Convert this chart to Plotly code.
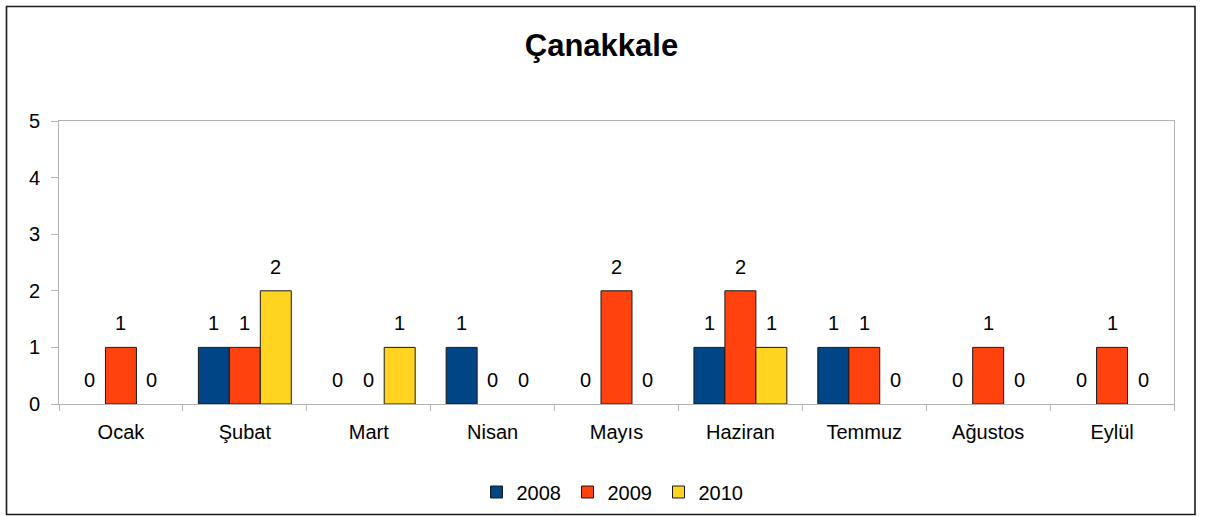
import plotly.graph_objects as go

months = ["Ocak", "Şubat", "Mart", "Nisan", "Mayıs", "Haziran", "Temmuz", "Ağustos", "Eylül"]
years = ["2008", "2009", "2010"]
v2008 = [0, 1, 0, 1, 0, 1, 1, 0, 0]
v2009 = [1, 1, 0, 0, 2, 2, 1, 1, 1]
v2010 = [0, 2, 1, 0, 0, 1, 0, 0, 0]
colors = ["#004586", "#ff420e", "#ffd320"]
series = [v2008, v2009, v2010]

W, H = 1211, 516
L, R, T, B = 59, 37, 121, 112
pw, ph = W - L - R, H - T - B
FONT = "Liberation Sans, Arial, sans-serif"

fig = go.Figure()
for name, vals, col in zip(years, series, colors):
    fig.add_trace(go.Bar(
        x=months, y=[v if v else None for v in vals], name=name,
        marker=dict(color=col, line=dict(color="#1a1a1a", width=1)),
    ))

# data labels
n = len(series)
bw = 0.75 / n
for k, vals in enumerate(series):
    off = (k - (n - 1) / 2) * bw
    for i, v in enumerate(vals):
        fig.add_annotation(
            x=i + off, y=v, xref="x", yref="y", text=str(v), showarrow=False,
            yanchor="middle", yshift=24,
            font=dict(size=20, color="#000000", family=FONT),
        )

def px2x(px):
    return (px - L) / pw

def px2y(py):
    return (H - B - py) / ph

fig.add_shape(type="rect", xref="paper", yref="paper",
              x0=px2x(6.5), x1=px2x(1195), y0=px2y(514.5), y1=px2y(6.5),
              line=dict(color="#1a1a1a", width=1.6), layer="above")

fig.update_layout(
    width=W, height=H,
    margin=dict(l=L, r=R, t=T, b=B, pad=0, autoexpand=False),
    paper_bgcolor="white", plot_bgcolor="white",
    font=dict(family=FONT, size=20, color="#000000"),
    title=dict(text="<b>Çanakkale</b>", x=601.5 / W, xref="container", xanchor="center",
               y=1 - 45 / H, yref="container", yanchor="middle",
               font=dict(size=31, family=FONT, color="#000")),
    barmode="group", bargap=0.25, bargroupgap=0,
    showlegend=True,
    legend=dict(orientation="h", x=px2x(613), xanchor="center", y=px2y(492), yanchor="middle",
                font=dict(size=20), itemwidth=30, traceorder="normal",
                entrywidth=46, entrywidthmode="pixels"),
    xaxis=dict(showline=True, linecolor="#b3b3b3", linewidth=1, mirror=True,
               ticks="outside", tickson="boundaries", ticklen=6, tickcolor="#b3b3b3",
               showgrid=False, zeroline=False, tickfont=dict(size=20), ticklabelstandoff=10),
    yaxis=dict(range=[0, 5], dtick=1, showline=True, linecolor="#b3b3b3", linewidth=1, mirror=True,
               ticks="outside", ticklen=7, tickcolor="#b3b3b3", showgrid=False, zeroline=False,
               tickfont=dict(size=20), ticklabelstandoff=7),
)

post = (
    "document.documentElement.style.margin='0';"
    "document.documentElement.style.overflow='hidden';"
    "document.body.style.margin='0';"
    "document.body.style.overflow='hidden';"
    "document.body.style.height='516px';"
)
fig.write_html("out.html", config={"displayModeBar": False}, post_script=post)
